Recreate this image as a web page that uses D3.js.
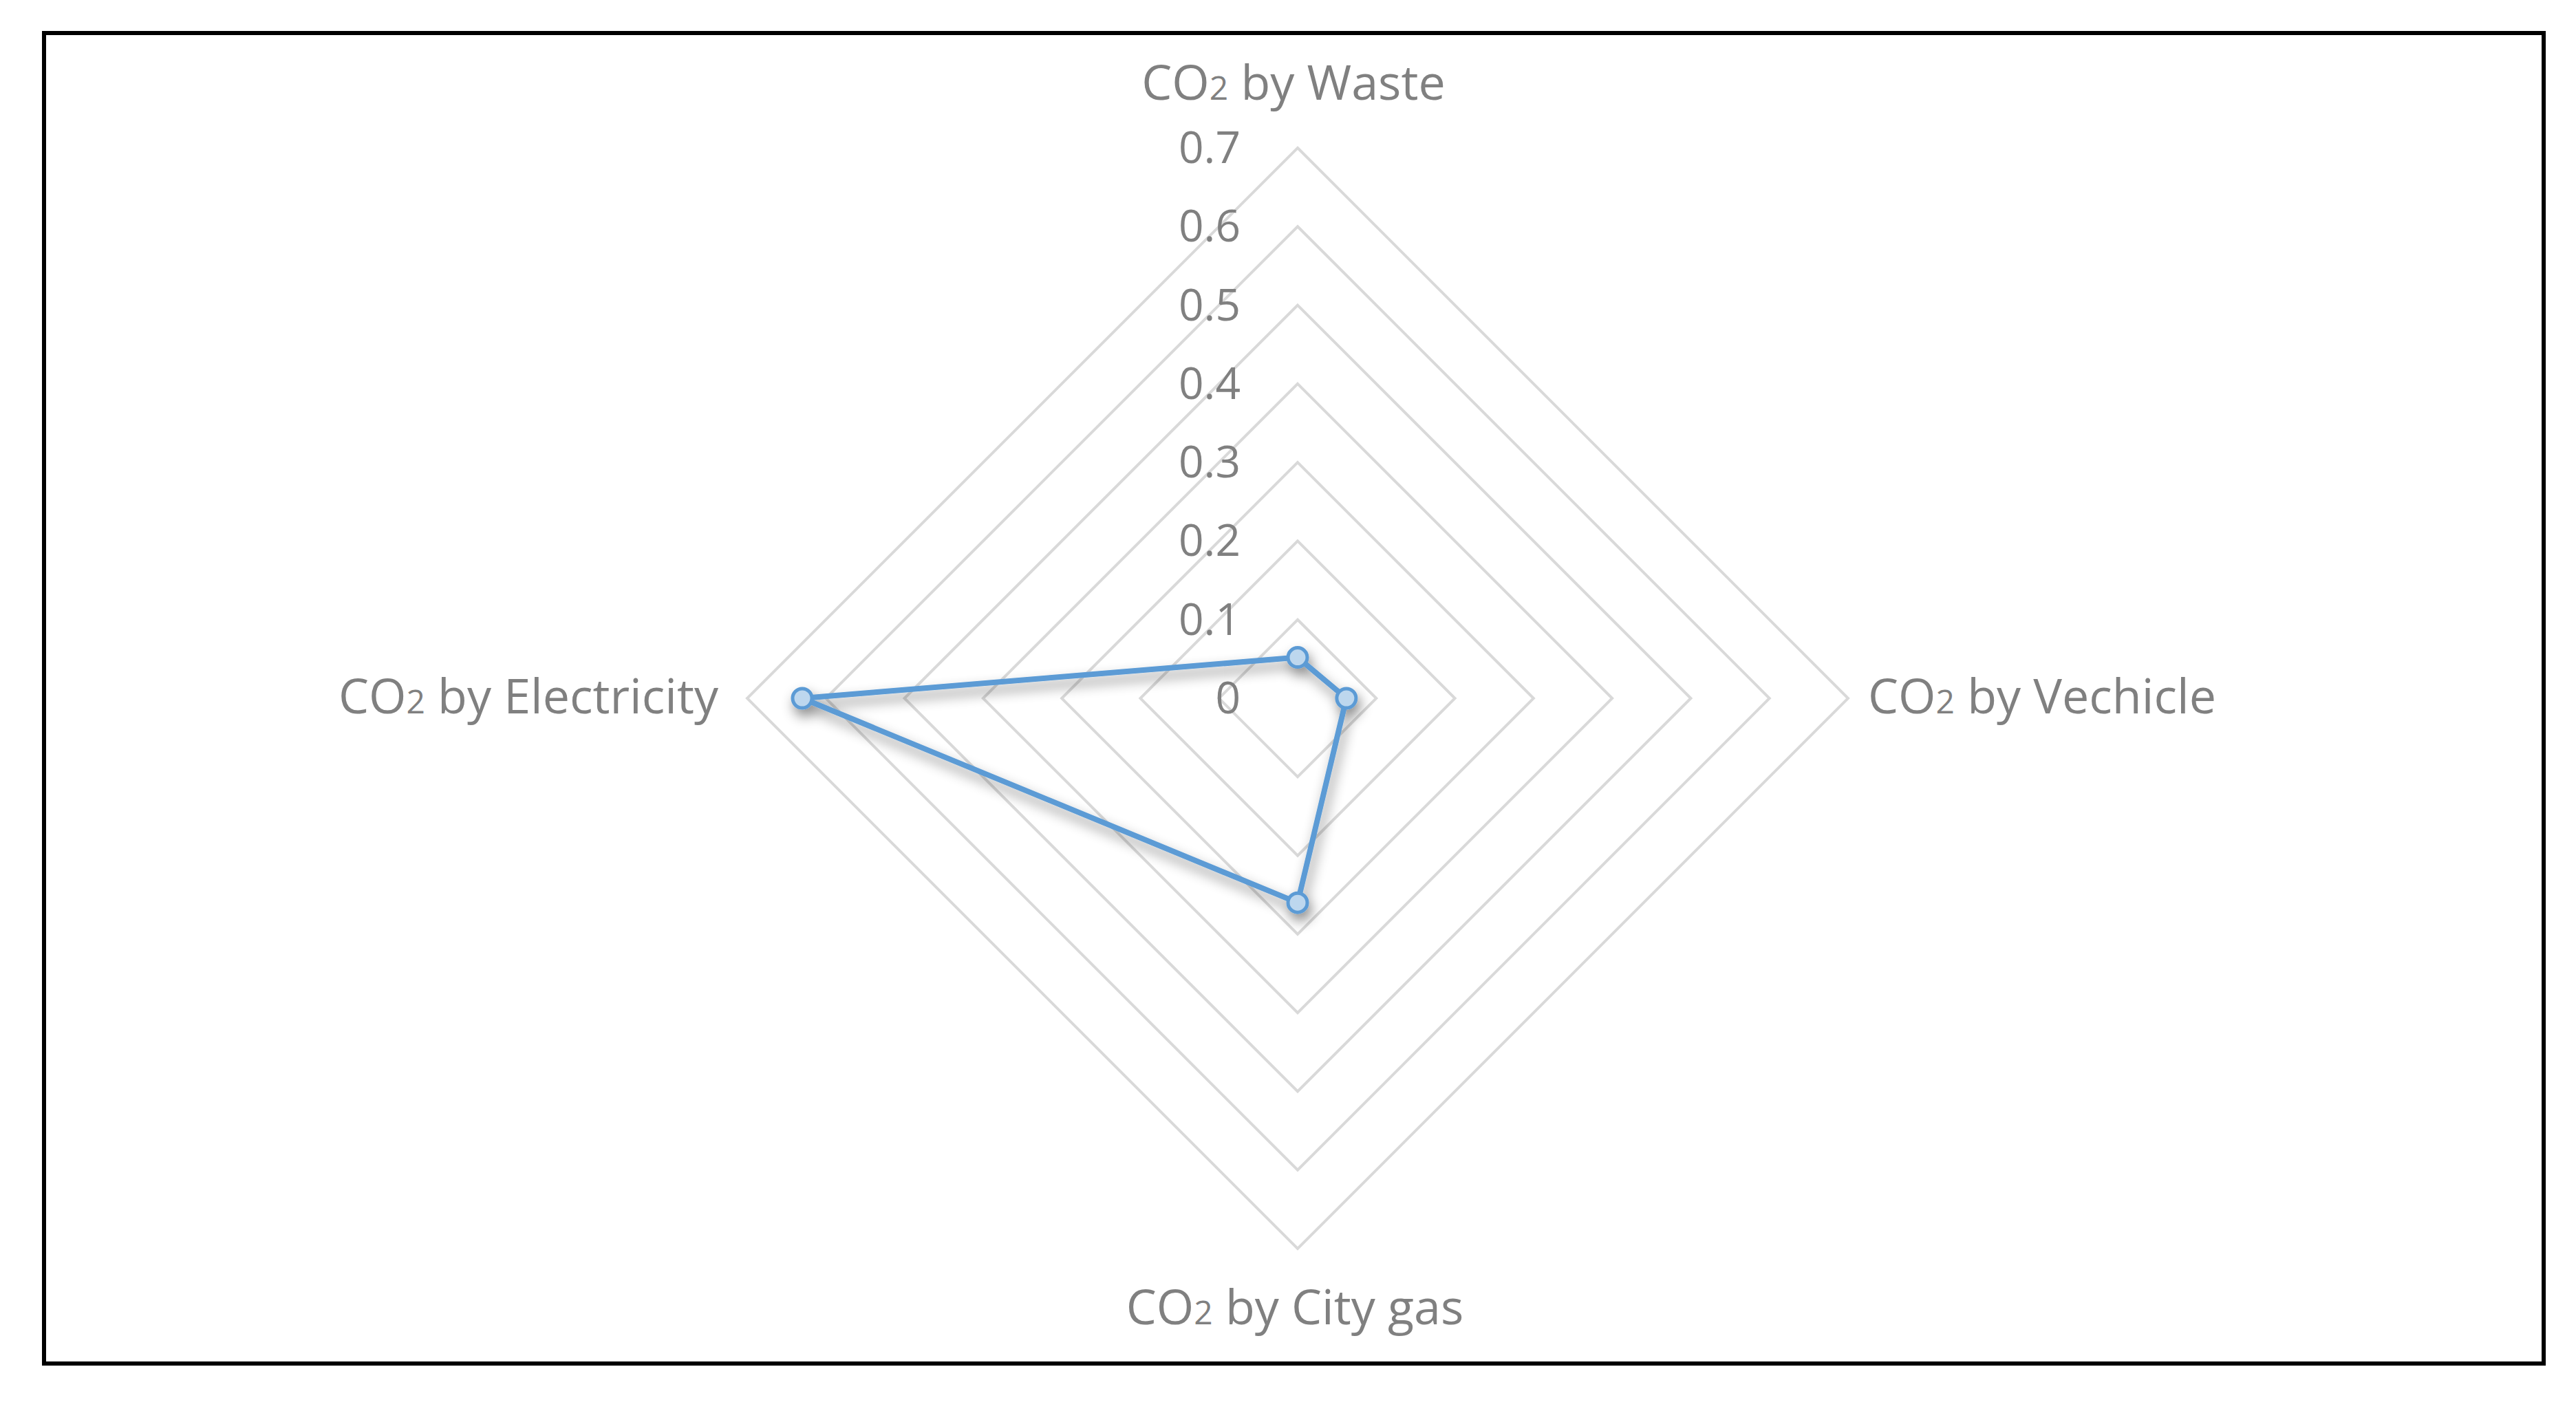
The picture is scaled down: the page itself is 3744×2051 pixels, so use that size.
<!DOCTYPE html>
<html><head><meta charset="utf-8">
<script src="https://cdn.jsdelivr.net/npm/d3@7"></script>
<style>body{margin:0;background:#fff}</style></head>
<body><svg id="c" width="3744" height="2051"></svg>
<script>
const categories = ["Waste", "Vechicle", "City gas", "Electricity"];
const values = [0.052, 0.062, 0.26, 0.63];
const ticks = [0, 0.1, 0.2, 0.3, 0.4, 0.5, 0.6, 0.7];

const svg = d3.select("#c");
const cx = 1886, cy = 1015, R = 800;
const font = "'Liberation Sans Narrow','Open Sans',sans-serif";
svg.append("rect").attr("x",64).attr("y",48).attr("width",3633).attr("height",1934)
  .attr("fill","#fff").attr("stroke","#000").attr("stroke-width",6);
const defs = svg.append("defs");
const f = defs.append("filter").attr("id","sh").attr("x","-20%").attr("y","-20%").attr("width","140%").attr("height","140%");
f.append("feDropShadow").attr("dx",4).attr("dy",10).attr("stdDeviation",9).attr("flood-color","#000").attr("flood-opacity",0.45);

const r = d3.scaleLinear().domain([0, 0.7]).range([0, R]);
const ang = i => i * Math.PI / 2;
const pt = (i, v) => [cx + r(v) * Math.sin(ang(i)), cy - r(v) * Math.cos(ang(i))];
const g = svg.append("g");
ticks.slice(1).forEach(t => {
  g.append("path").attr("d", d3.line()(categories.map((c,i)=>pt(i,t))) + "Z")
    .attr("fill","none").attr("stroke","#d9d9d9").attr("stroke-width",4);
});
ticks.forEach(t => {
  g.append("text").attr("x", cx - 83).attr("y", cy - r(t) + 22).attr("text-anchor","end")
    .attr("font-family",font).attr("font-size",64).attr("fill","#808080").text(String(t));
});
const labPos = [
  {x:1880,y:145,a:"middle"},{x:2715,y:1037,a:"start"},{x:1882,y:1925,a:"middle"},{x:1044,y:1037,a:"end"}];
categories.forEach((c,i)=>{
  const t = svg.append("text").attr("x",labPos[i].x).attr("y",labPos[i].y).attr("text-anchor",labPos[i].a)
    .attr("font-family",font).attr("font-size",70).attr("fill","#808080");
  t.append("tspan").text("CO");
  t.append("tspan").attr("font-size",48).text("2");
  t.append("tspan").text(" by " + c);
});
const s = svg.append("g").attr("filter","url(#sh)");
s.append("path").attr("d", d3.line()(values.map((v,i)=>pt(i,v))) + "Z")
  .attr("fill","none").attr("stroke","#5b9bd5").attr("stroke-width",8).attr("stroke-linejoin","round");
values.forEach((v,i)=>{
  const [x,y] = pt(i,v);
  s.append("circle").attr("cx",x).attr("cy",y).attr("r",14).attr("fill","#bdd7ee").attr("stroke","#5b9bd5").attr("stroke-width",5);
});
</script></body></html>
